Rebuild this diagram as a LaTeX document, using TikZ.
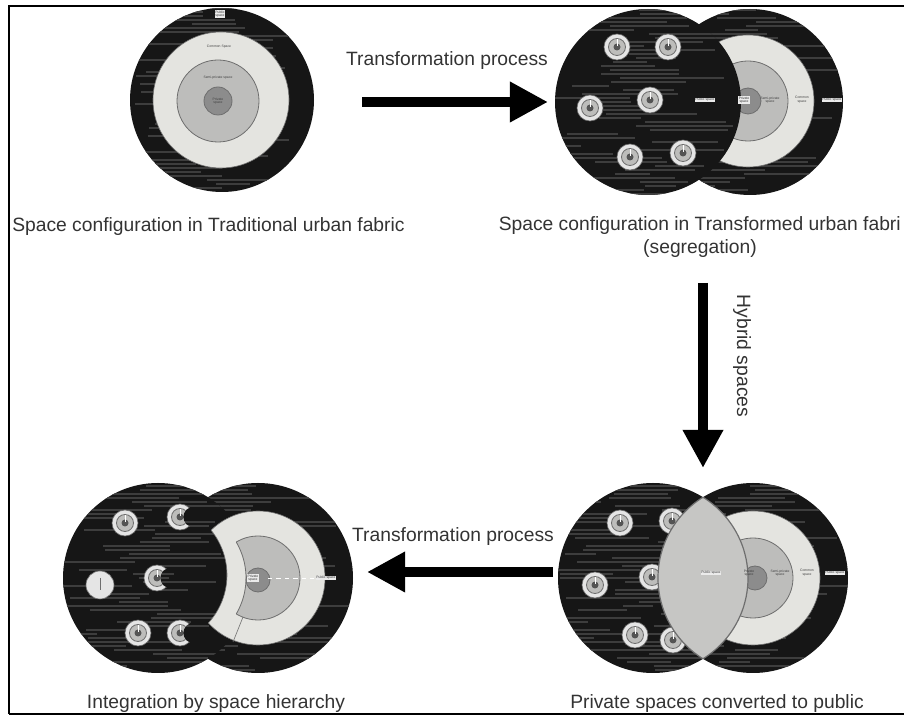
\documentclass[tikz,border=0pt]{standalone}
\usepackage{fontspec}
\setmainfont{Liberation Sans}
\usetikzlibrary{arrows.meta}

\definecolor{discblack}{HTML}{161616}
\definecolor{ringlight}{HTML}{E4E4E0}
\definecolor{ringmid}{HTML}{BDBDBB}
\definecolor{ringcore}{HTML}{8C8C8C}
\definecolor{lensgray}{HTML}{C6C6C4}
\definecolor{edgegray}{HTML}{6E6E6E}
\definecolor{inkgray}{HTML}{333333}

\tikzset{
  disc/.style={fill=discblack},
  streak/.style={draw=black!76, line width=0.035cm},
  light/.style={fill=ringlight, draw=edgegray, line width=0.015cm},
  mid/.style={fill=ringmid, draw=edgegray, line width=0.02cm},
  core/.style={fill=ringcore, draw=edgegray, line width=0.02cm},
  caption/.style={font=\fontsize{13.7}{16}\selectfont, text=inkgray, inner sep=0pt},
  bigarrow/.style={line width=0.25cm, draw=black, -{Triangle[length=0.95cm,width=0.95cm]}},
  tinylbl/.style={font=\fontsize{2.4}{2.6}\selectfont, text=black!75, inner sep=0.3pt, align=center},
  tag/.style={tinylbl, fill=white!92!black, text=black!80},
}

% dark textured disc: centre, radius
\newcommand{\darkdisc}[2]{%
  \fill[disc] #1 circle (#2);
  \begin{scope}
    \clip #1 circle (#2);
    \begin{scope}[shift={#1}]
      \foreach \k in {-24,...,24} {
        \pgfmathsetmacro{\xa}{-100+110*rnd}
        \pgfmathsetmacro{\slen}{30+80*rnd}
        \draw[streak] (\xa,4*\k) -- ++(\slen,0);
      }
    \end{scope}
  \end{scope}}

% small house icon
\newcommand{\targeticon}[1]{%
  \begin{scope}[shift={#1}]
    \filldraw[fill=white!90!black, draw=edgegray, line width=0.015cm] (0,0) circle (13);
    \filldraw[mid] (0,0) circle (8.5);
    \fill[ringcore!60!black] (0,0) circle (3.5);
    \draw[white, line width=0.02cm] (0,-1) -- (0,-8);
  \end{scope}}

\newcommand{\halftarget}[1]{%
  \begin{scope}[shift={#1}, even odd rule]
    \clip (-16,-16) rectangle (16,16) (13,0) circle (10);
    \targeticon{(0,0)}
  \end{scope}}

\begin{document}
\begin{tikzpicture}[x=0.025cm, y=-0.025cm]
  \pgfmathsetseed{11}
  \useasboundingbox (0,0) rectangle (904,715);
  \clip (0,0) rectangle (904,715);

  % frame
  \draw[line width=0.05cm] (9,714) -- (9,6) -- (904,6);
  \draw[line width=0.05cm] (9,714) -- (904,714);

  % traditional fabric
  \darkdisc{(222,100)}{92}
  \filldraw[light] (221,100) circle (68);
  \filldraw[mid] (218,101) circle (41);
  \filldraw[core] (218,101) circle (14);
  \node[tag] (aTop) at (220,14) {Public\\space};
  \node[tinylbl] (aCommon) at (219,47) {Common Space};
  \node[tinylbl] (aSemi) at (218,78) {Semi-private space};
  \node[tinylbl] (aPriv) at (218,101) {Private\\space};

  % transformed fabric
  \darkdisc{(750,102)}{93}
  \filldraw[light] (748,101) circle (66);
  \filldraw[mid] (748,101) circle (40);
  \filldraw[core] (748,101) circle (13);
  \darkdisc{(648,102)}{93}
  \foreach \ix/\iy in {617/47,668/47,590/108,650/100,630/157,683/153}
    {\targeticon{(\ix,\iy)}}
  \node[tag] (bPub) at (705,100) {Public space};
  \node[tag] (bPriv) at (744,100) {Private\\space};
  \node[tinylbl] (bSemi) at (770,100) {Semi-private\\space};
  \node[tinylbl] (bCommon) at (802,100) {Common\\space};
  \node[tag] (bOut) at (832,100) {Public space};

  % private converted to public
  \darkdisc{(653,578)}{95}
  \foreach \ix/\iy in {620/523,672/521,595/585,652/577,635/635,673/640}
    {\targeticon{(\ix,\iy)}}
  \darkdisc{(753,578)}{95}
  \filldraw[light] (753,578) circle (67);
  \filldraw[mid] (753,578) circle (40);
  \filldraw[core] (755,578) circle (12);
  \begin{scope}
    \clip (653,578) circle (95);
    \filldraw[fill=lensgray, draw=edgegray, line width=0.03cm] (753,578) circle (95);
  \end{scope}
  \begin{scope}
    \clip (753,578) circle (95);
    \draw[edgegray, line width=0.03cm] (653,578) circle (95);
  \end{scope}
  \node[tag] (cPub) at (711,573) {Public space};
  \node[tinylbl] (cPriv) at (749,573) {Private\\space};
  \node[tinylbl] (cSemi) at (780,573) {Semi-private\\space};
  \node[tinylbl] (cCommon) at (807,573) {Common\\space};
  \node[tag] (cOut) at (835,573) {Public space};

  % integration by hierarchy
  \darkdisc{(258,578)}{95}
  \darkdisc{(158,578)}{95}
  \begin{scope}
    \clip (258,578) circle (67);
    \fill[ringlight, even odd rule] (258,578) circle (80) (156,575) circle (71);
  \end{scope}
  \begin{scope}[even odd rule]
    \clip (60,470) rectangle (360,690) (156,575) circle (71);
    \draw[edgegray, line width=0.015cm] (258,578) circle (67);
  \end{scope}
  \begin{scope}
    \clip (258,578) circle (67);
    \draw[edgegray, line width=0.015cm] (156,575) circle (71);
  \end{scope}
  \begin{scope}
    \clip (258,578) circle (42);
    \fill[ringmid, even odd rule] (258,578) circle (55) (175,578) circle (71);
  \end{scope}
  \begin{scope}[even odd rule]
    \clip (60,470) rectangle (360,690) (175,578) circle (71);
    \draw[edgegray, line width=0.02cm] (258,578) circle (42);
  \end{scope}
  \begin{scope}
    \clip (258,578) circle (42);
    \draw[edgegray, line width=0.02cm] (175,578) circle (71);
  \end{scope}
  \draw[edgegray, line width=0.015cm] (243,617) -- (233,642);
  \filldraw[core] (258,580) circle (12);
  \draw[white, dashed, line width=0.02cm] (268,578) -- (318,578);
  \node[tag] (dPriv) at (253,578) {Private\\space};
  \node[tag] (dOut) at (326,578) {Public space};
  \targeticon{(125,523)}
  \halftarget{(180,517)}
  \filldraw[fill=white!90!black, draw=edgegray, line width=0.015cm] (100,585) circle (14);
  \draw[edgegray, line width=0.02cm] (100,578) -- (100,590);
  \halftarget{(157,578)}
  \targeticon{(138,633)}
  \halftarget{(180,633)}

  % arrows
  \coordinate (tStart) at (362,102);
  \coordinate (tEnd) at (548,102);
  \coordinate (hStart) at (703,283);
  \coordinate (hEnd) at (703,468);
  \coordinate (bStart) at (553,572);
  \coordinate (bEnd) at (367,572);
  \draw[bigarrow] (tStart) -- (tEnd);
  \draw[bigarrow] (hStart) -- (hEnd);
  \draw[bigarrow] (bStart) -- (bEnd);

  % labels
  \node[caption, anchor=base] (lblTop) at (447,66) {Transformation process};
  \node[caption, rotate=-90] (lblHybrid) at (742,356) {Hybrid spaces};
  \node[caption, anchor=base] (lblBottom) at (453,542) {Transformation process};
  \node[caption, anchor=base west] (capTrad) at (12,232) {Space configuration in Traditional urban fabric};
  \node[caption, anchor=base east] (capTrans) at (901,231) {Space configuration in Transformed urban fabri};
  \node[caption, anchor=base] (capSeg) at (700,254) {(segregation)};
  \node[caption, anchor=base] (capInteg) at (216,709) {Integration by space hierarchy};
  \node[caption, anchor=base] (capPriv) at (717,709) {Private spaces converted to public};
\end{tikzpicture}
\end{document}
